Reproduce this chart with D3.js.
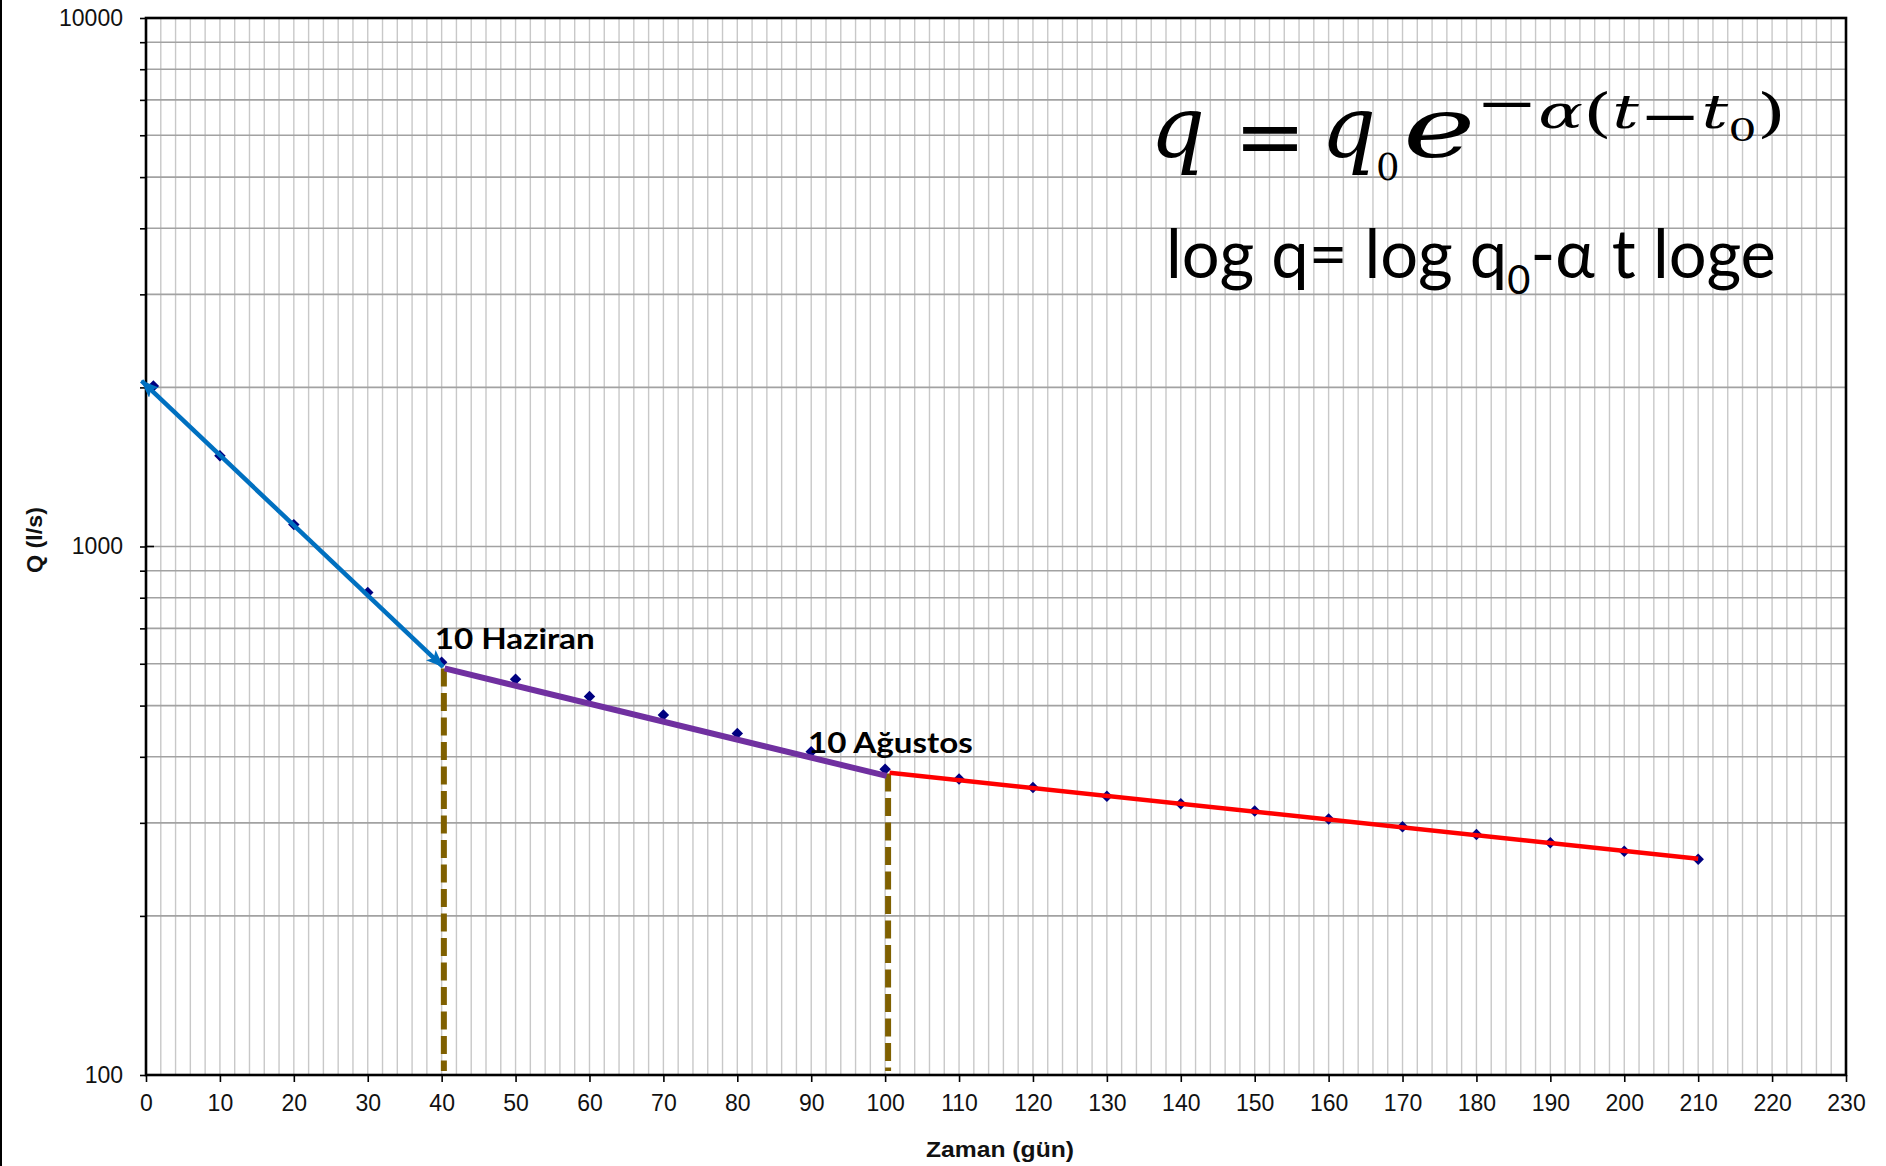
<!DOCTYPE html>
<html>
<head>
<meta charset="utf-8">
<script src="https://cdn.jsdelivr.net/npm/d3@7"></script>
<style>
  html, body { margin: 0; padding: 0; background: #fff; }
  svg { display: block; }
</style>
</head>
<body>
<svg id="chart" width="1886" height="1166"></svg>
<script>
// ---- data ----
const days = [1, 10, 20, 30, 40, 50, 60, 70, 80, 90, 100, 110, 120, 130, 140, 150, 160, 170, 180, 190, 200, 210];
const flow = [2012, 1485, 1100, 818, 604, 561, 520, 480, 443, 409, 379, 363, 350, 337, 326, 316, 305, 295, 285, 275, 265, 256];

const blueT = [-0.6, 40.2],  blueQ = [2057, 592];
const purpleT = [40.4, 100.2], purpleQ = [588, 368];
const redT = [100.6, 210],   redQ = [373, 256.6];
const guideT = [40.3, 100.4], guideQ = [588, 372];

const xTicks = [0, 10, 20, 30, 40, 50, 60, 70, 80, 90, 100, 110, 120, 130, 140, 150, 160, 170, 180, 190, 200, 210, 220, 230];
const yMajor = [100, 1000, 10000];
const yTickLabels = ["100", "1000", "10000"];
const yMinor = [200, 300, 400, 500, 600, 700, 800, 900, 2000, 3000, 4000, 5000, 6000, 7000, 8000, 9000];
const xMinorStep = 2;

const annotations = [
  { text: "10 Haziran", t: 40.0, q: 640, len: 160 },
  { text: "10 Ağustos", t: 90.5, q: 406, len: 165 }
];

// ---- layout ----
const svg = d3.select("#chart");
const L = 146, R = 1846, T = 18, B = 1075;
const x = d3.scaleLinear().domain([0, 230]).range([L, R]);
const y = d3.scaleLog().domain([100, 10000]).range([B, T]);

// left frame line
svg.append("line").attr("x1", 1).attr("x2", 1).attr("y1", 0).attr("y2", 1166)
  .attr("stroke", "#000").attr("stroke-width", 2);

// vertical grid
const vgrid = d3.range(xMinorStep, 230, xMinorStep);
svg.append("g").selectAll("line").data(vgrid).join("line")
  .attr("x1", d => x(d)).attr("x2", d => x(d)).attr("y1", T).attr("y2", B)
  .attr("stroke", "#c8c8c8").attr("stroke-width", 1.4);

// horizontal grid
svg.append("g").selectAll("line").data(yMinor.concat([1000])).join("line")
  .attr("x1", L).attr("x2", R).attr("y1", d => y(d)).attr("y2", d => y(d))
  .attr("stroke", "#a2a2a2").attr("stroke-width", 1.6);

// y axis ticks + labels
const yAxis = d3.axisLeft(y)
  .tickValues(yMinor.concat(yMajor))
  .tickSize(6).tickPadding(17)
  .tickFormat(d => { const i = yMajor.indexOf(d); return i >= 0 ? yTickLabels[i] : ""; });
const gy = svg.append("g").attr("transform", `translate(${L},0)`).call(yAxis);
gy.select(".domain").remove();
gy.selectAll(".tick line").attr("stroke", "#000").attr("stroke-width", 1.6);
gy.selectAll(".tick text").attr("font-family", "Liberation Sans, Arial, sans-serif")
  .attr("font-size", 23).attr("fill", "#111");
svg.append("g").selectAll("line").data([1000]).join("line")
  .attr("x1", L).attr("x2", L + 8).attr("y1", d => y(d)).attr("y2", d => y(d))
  .attr("stroke", "#000").attr("stroke-width", 1.6);

// x axis
const xAxis = d3.axisBottom(x).tickValues(xTicks).tickSize(7).tickPadding(13).tickFormat(d => String(d));
const gx = svg.append("g").attr("transform", `translate(0,${B})`).call(xAxis);
gx.select(".domain").remove();
gx.selectAll(".tick line").attr("stroke", "#000").attr("stroke-width", 1.6);
gx.selectAll(".tick text").attr("font-family", "Liberation Sans, Arial, sans-serif")
  .attr("font-size", 23).attr("fill", "#111");

// frame
svg.append("rect").attr("x", L).attr("y", T).attr("width", R - L).attr("height", B - T)
  .attr("fill", "none").attr("stroke", "#000").attr("stroke-width", 2.6);

// guide dashed lines
svg.append("g").selectAll("line").data(guideT).join("line")
  .attr("x1", d => x(d)).attr("x2", d => x(d))
  .attr("y1", (d, i) => y(guideQ[i])).attr("y2", B - 4)
  .attr("stroke", "#7F6000").attr("stroke-width", 6)
  .attr("stroke-dasharray", "18 6.5");

// markers (diamonds)
svg.append("g").selectAll("path").data(days).join("path")
  .attr("d", d3.symbol().type(d3.symbolSquare).size(66))
  .attr("transform", (d, i) => `translate(${x(d)},${y(flow[i])}) rotate(45)`)
  .attr("fill", "#000080");

// arrow marker
const defs = svg.append("defs");
defs.append("marker").attr("id", "arrow").attr("viewBox", "0 0 18 14")
  .attr("refX", 17).attr("refY", 7)
  .attr("markerWidth", 18).attr("markerHeight", 14)
  .attr("markerUnits", "userSpaceOnUse")
  .attr("orient", "auto-start-reverse")
  .append("path").attr("d", "M0,0 L18,7 L0,14 L4,7 Z").attr("fill", "#0070C0");

const line = d3.line().x(d => x(d[0])).y(d => y(d[1]));
function seg(ts, qs) { return ts.map((t, i) => [t, qs[i]]); }

svg.append("path").datum(seg(purpleT, purpleQ)).attr("d", line)
  .attr("fill", "none").attr("stroke", "#7030A0").attr("stroke-width", 6);
svg.append("path").datum(seg(redT, redQ)).attr("d", line)
  .attr("fill", "none").attr("stroke", "#FF0000").attr("stroke-width", 4.5);
svg.append("path").datum(seg(blueT, blueQ)).attr("d", line)
  .attr("fill", "none").attr("stroke", "#0070C0").attr("stroke-width", 4.5)
  .attr("marker-start", "url(#arrow)").attr("marker-end", "url(#arrow)");

// annotations
svg.append("g").selectAll("text").data(annotations).join("text")
  .attr("x", d => x(d.t) - 7).attr("y", d => y(d.q))
  .attr("font-family", "Lato, 'Open Sans', sans-serif").attr("font-weight", "bold")
  .attr("font-size", 28).attr("fill", "#000")
  .attr("textLength", d => d.len).attr("lengthAdjust", "spacingAndGlyphs")
  .text(d => d.text);

// axis titles
svg.append("text").attr("x", 1000).attr("y", 1157).attr("text-anchor", "middle")
  .attr("font-family", "Liberation Sans, Arial, sans-serif").attr("font-weight", "bold")
  .attr("font-size", 22).attr("textLength", 148).attr("lengthAdjust", "spacingAndGlyphs")
  .attr("fill", "#111").text("Zaman (gün)");
svg.append("text").attr("transform", "translate(42,540) rotate(-90)").attr("text-anchor", "middle")
  .attr("font-family", "Liberation Sans, Arial, sans-serif").attr("font-weight", "bold")
  .attr("font-size", 22).attr("textLength", 66).attr("lengthAdjust", "spacingAndGlyphs")
  .attr("fill", "#111").text("Q (l/s)");

// equation 1, part a: "q = q0"
const mathFont = "'DejaVu Serif', 'Liberation Serif', serif";
const eq1a = svg.append("text").attr("font-family", mathFont).attr("fill", "#000");
eq1a.append("tspan").attr("x", 1150).attr("y", 157).attr("font-size", 86).attr("font-style", "italic").text("q");
eq1a.append("tspan").attr("x", 1234).attr("y", 166).attr("font-size", 86).text("=");
eq1a.append("tspan").attr("x", 1321).attr("y", 157).attr("font-size", 86).attr("font-style", "italic").text("q");
eq1a.append("tspan").attr("y", 180).attr("font-size", 37).text("0");

// equation 1, part b: "e^{−α(t−t0)}" (the reference draws it wide)
const eq1b = svg.append("text").attr("font-family", mathFont).attr("fill", "#000").attr("x", 0);
const sup = [
  ["e", 157, 85, true],
  ["\u2212", 121, 52, false],
  ["\u03B1", 128, 46, true],
  ["(", 131, 52, false],
  ["t", 128, 46, true],
  ["\u2212", 134, 52, false],
  ["t", 128, 46, true],
  ["0", 141, 31, false],
  [")", 131, 52, false]
];
eq1b.selectAll("tspan").data(sup).join("tspan")
  .attr("y", d => d[1]).attr("font-size", d => d[2])
  .attr("font-style", d => d[3] ? "italic" : "normal")
  .text(d => d[0]);
const w1b = eq1b.node().getComputedTextLength();
eq1b.attr("transform", `translate(1403,0) scale(${383 / w1b},1)`);

// equation 2 (one text element, stretched to the reference width)
const eq2 = svg.append("text").attr("font-family", "Lato, 'Open Sans', sans-serif").attr("fill", "#000")
  .attr("x", 1166).attr("y", 278).attr("font-size", 67);
eq2.append("tspan").text("log q= log q");
eq2.append("tspan").attr("font-size", 40).attr("dy", 16).text("0");
eq2.append("tspan").attr("dy", -16).text("-\u03B1 t loge");
const w2 = eq2.node().getComputedTextLength();
eq2.attr("transform", `translate(1166,0) scale(${610 / w2},1) translate(-1166,0)`);
</script>
</body>
</html>
